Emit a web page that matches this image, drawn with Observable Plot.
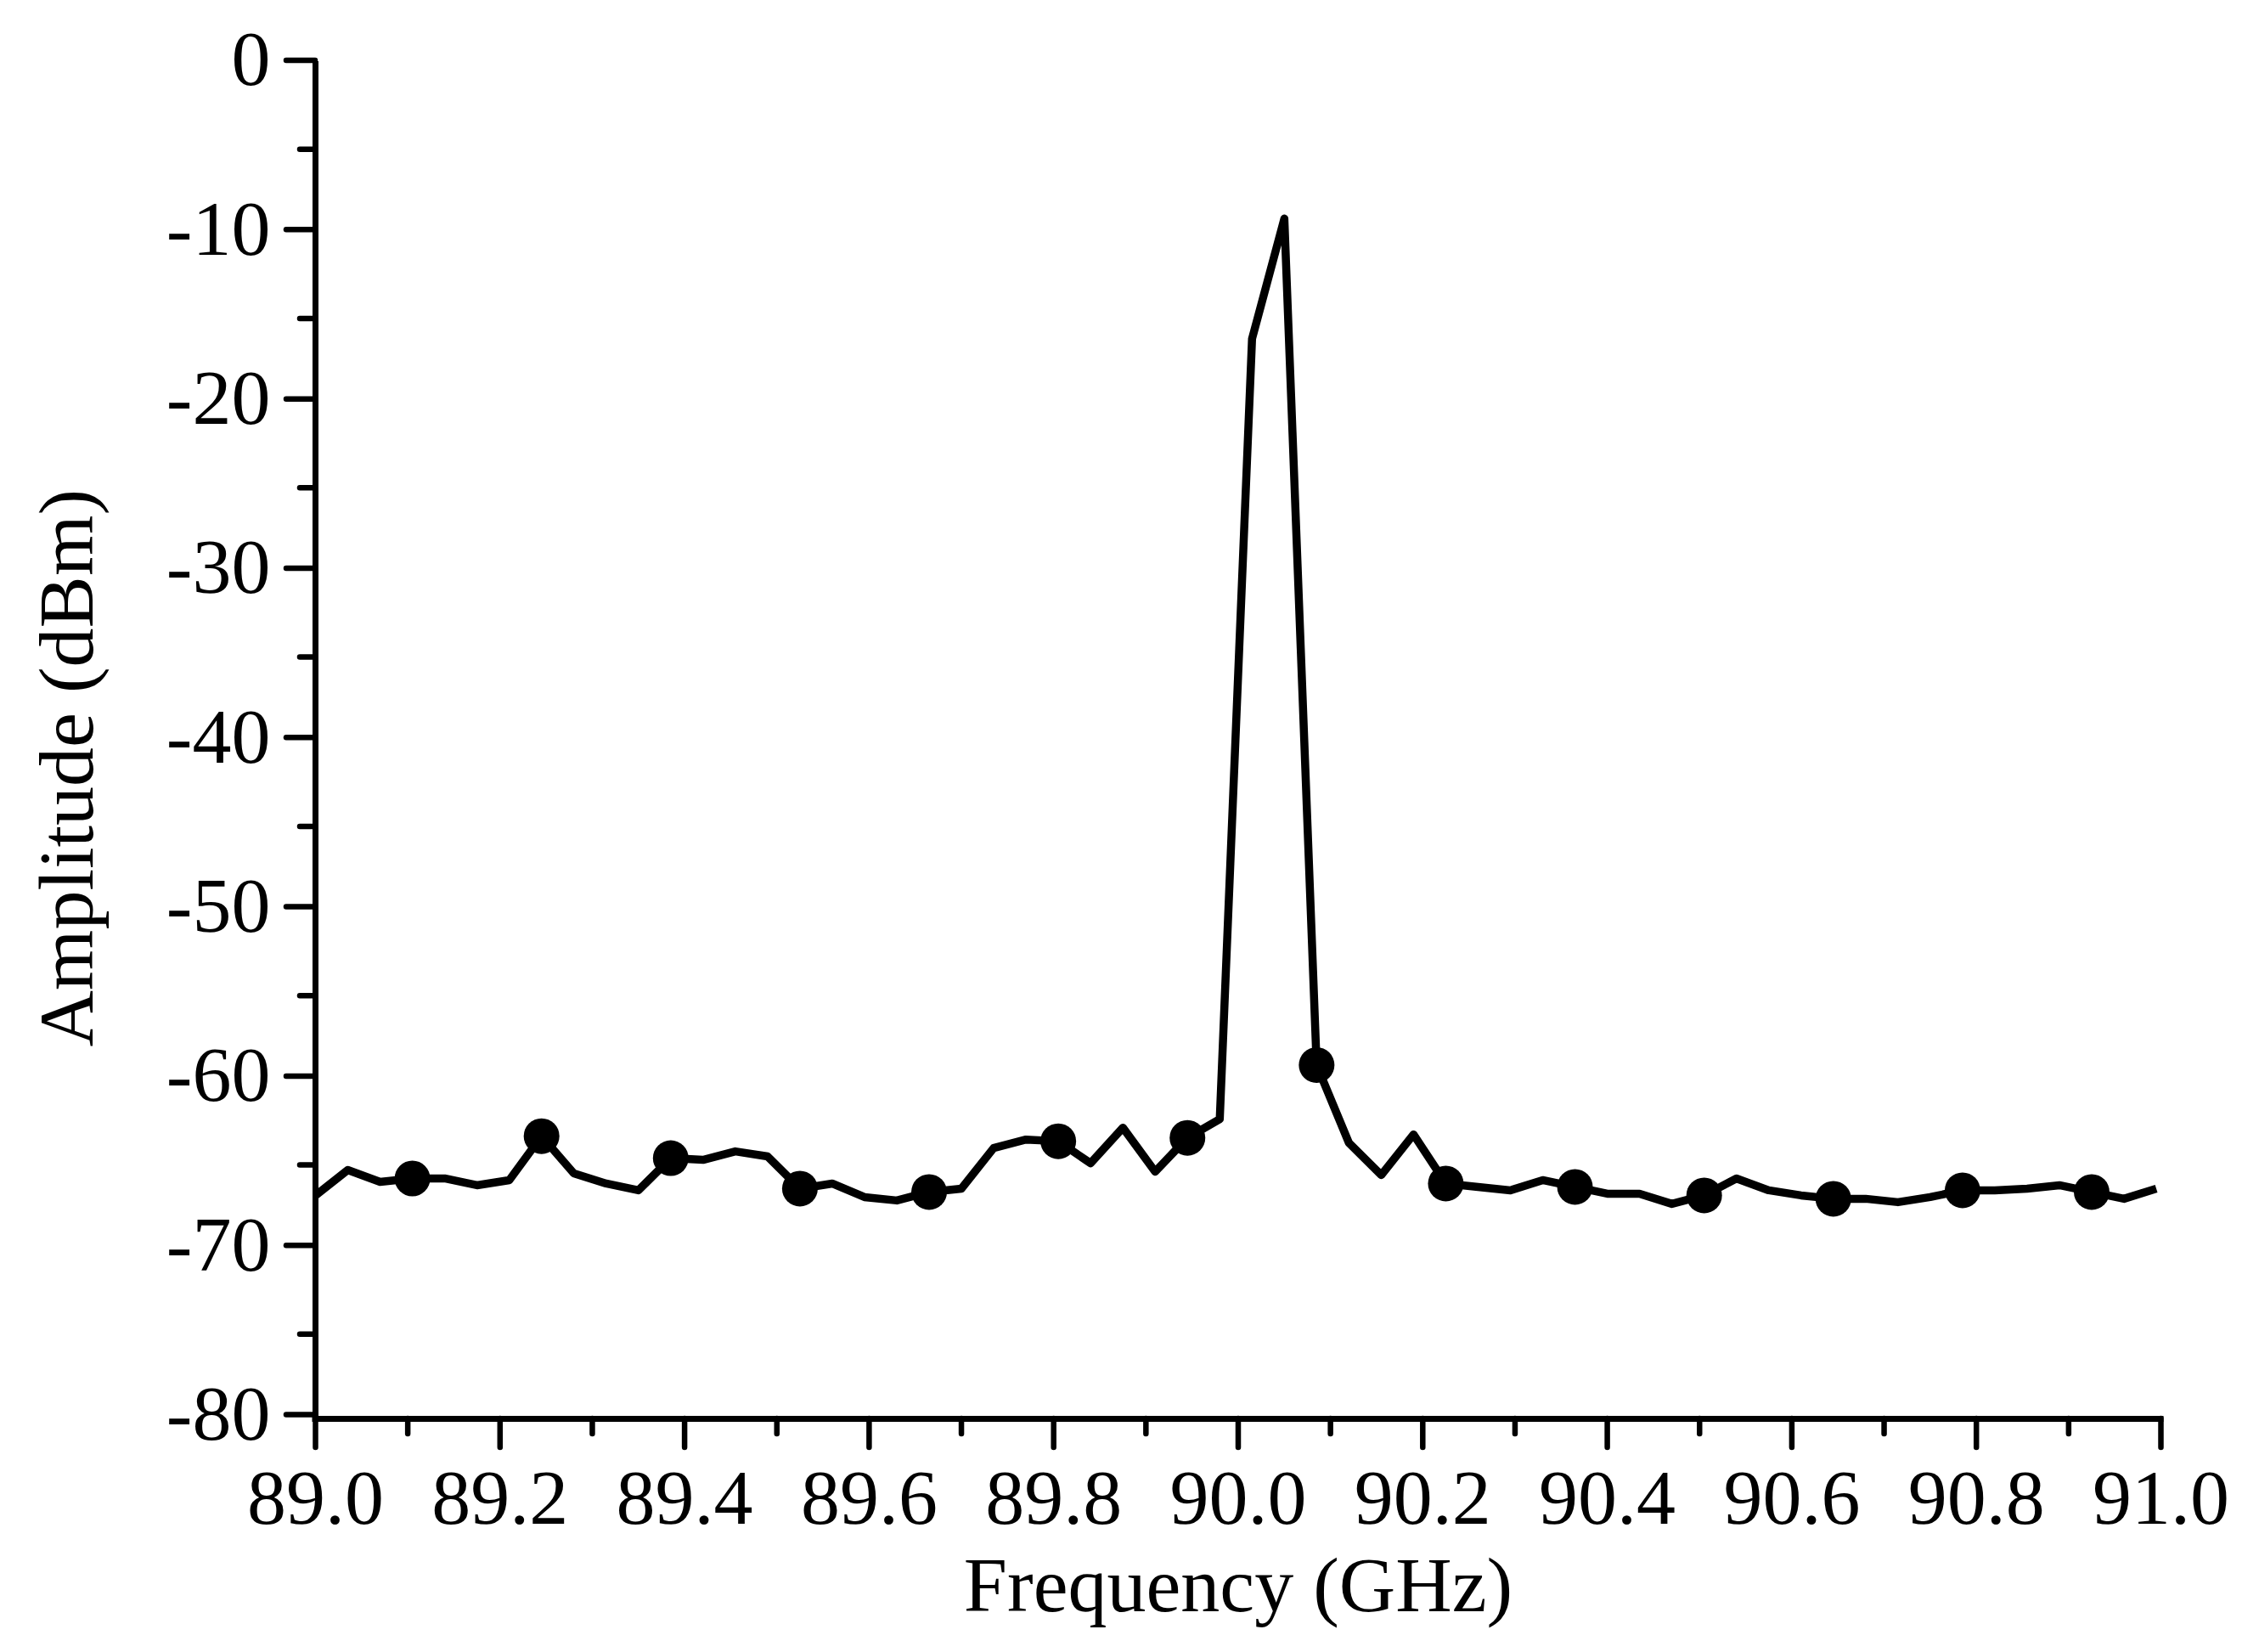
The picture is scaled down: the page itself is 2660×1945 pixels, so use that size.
<!DOCTYPE html>
<html>
<head>
<meta charset="utf-8">
<script src="https://cdn.jsdelivr.net/npm/d3@7"></script>
<script src="https://cdn.jsdelivr.net/npm/@observablehq/plot@0.6"></script>
<style>
  html, body { margin: 0; padding: 0; background: #fff; }
  #chart svg { display: block; }
</style>
</head>
<body>
<div id="chart"></div>
<script>
// Frequency samples (GHz)
const freq = [
  89.000, 89.035, 89.070, 89.105, 89.140, 89.175, 89.210, 89.245, 89.280, 89.315,
  89.350, 89.385, 89.420, 89.455, 89.490, 89.525, 89.560, 89.595, 89.630, 89.665,
  89.700, 89.735, 89.770, 89.805, 89.840, 89.875, 89.910, 89.945, 89.980, 90.015,
  90.050, 90.085, 90.120, 90.155, 90.190, 90.225, 90.260, 90.295, 90.330, 90.365,
  90.400, 90.435, 90.470, 90.505, 90.540, 90.575, 90.610, 90.645, 90.680, 90.715,
  90.750, 90.785, 90.820, 90.855, 90.890, 90.925, 90.960, 90.995
];
// Amplitude (dBm)
const amp = [
  -66.8, -65.3, -66.0, -65.8, -65.8, -66.2, -65.9, -63.3, -65.5, -66.1,
  -66.5, -64.6, -64.7, -64.2, -64.5, -66.4, -66.1, -66.9, -67.1, -66.6,
  -66.4, -64.0, -63.5, -63.6, -64.9, -62.8, -65.4, -63.4, -62.3, -16.2,
  -9.1, -59.1, -63.7, -65.6, -63.2, -66.1, -66.3, -66.5, -65.9, -66.3,
  -66.7, -66.7, -67.3, -66.8, -65.8, -66.5, -66.8, -67.0, -67.0, -67.2,
  -66.9, -66.5, -66.5, -66.4, -66.2, -66.6, -67.0, -66.4
];
// Marker symbols (filled circles)
const markerFreq = [89.105, 89.245, 89.385, 89.525, 89.665, 89.805, 89.945,
                    90.085, 90.225, 90.365, 90.505, 90.645, 90.785, 90.925];
const markerAmp  = [-65.8, -63.3, -64.6, -66.4, -66.6, -63.6, -63.4,
                    -59.1, -66.1, -66.3, -66.8, -67.0, -66.5, -66.6];

// Ticks
const xMajorTicks = [89.0, 89.2, 89.4, 89.6, 89.8, 90.0, 90.2, 90.4, 90.6, 90.8, 91.0];
const xMinorTicks = [89.1, 89.3, 89.5, 89.7, 89.9, 90.1, 90.3, 90.5, 90.7, 90.9];
const yMajorTicks = [0, -10, -20, -30, -40, -50, -60, -70, -80];
const yMinorTicks = [-5, -15, -25, -35, -45, -55, -65, -75];

const xTitle = "Frequency (GHz)";
const yTitle = "Amplitude (dBm)";

const lineData = freq.map((f, i) => ({f, a: amp[i]}));
const markerData = markerFreq.map((f, i) => ({f, a: markerAmp[i]}));

const FONT = 92;
const tickW = 6.5;

const chart = Plot.plot({
  width: 2660,
  height: 1945,
  marginLeft: 371,
  marginRight: 116,
  marginTop: 75.5,
  marginBottom: 275,
  style: {
    fontFamily: "'Liberation Serif', 'Times New Roman', serif",
    fontSize: FONT + "px",
    background: "#fff",
    color: "#000"
  },
  x: {domain: [89, 91], axis: null},
  y: {domain: [-80, 0], axis: null},
  marks: [
    Plot.axisX(xMajorTicks, {
      tickSize: 34, tickPadding: 24, strokeWidth: tickW, strokeLinecap: "round",
      tickFormat: d => d.toFixed(1), fontSize: FONT, label: null
    }),
    Plot.axisX(xMinorTicks, {
      tickSize: 18, strokeWidth: tickW, strokeLinecap: "round", text: null, label: null
    }),
    Plot.axisY(yMajorTicks, {
      tickSize: 34, tickPadding: 19, strokeWidth: tickW, strokeLinecap: "round",
      tickFormat: d => String(d), fontSize: FONT, dy: -5, label: null
    }),
    Plot.axisY(yMinorTicks, {
      tickSize: 18, strokeWidth: tickW, strokeLinecap: "round", text: null, label: null
    }),
    Plot.ruleY([-80], {stroke: "#000", strokeWidth: 7, strokeLinecap: "square"}),
    Plot.ruleX([89], {stroke: "#000", strokeWidth: 7, strokeLinecap: "square"}),
    Plot.line(lineData, {
      x: "f", y: "a", stroke: "#000", strokeWidth: 9.5,
      strokeLinejoin: "round", strokeLinecap: "butt"
    }),
    Plot.dot(markerData, {x: "f", y: "a", r: 21, fill: "#000", stroke: null}),
    Plot.text([xTitle], {
      frameAnchor: "bottom", dy: 226, lineAnchor: "bottom",
      textAnchor: "middle", fontSize: FONT, fill: "#000"
    }),
    Plot.text([yTitle], {
      frameAnchor: "left", dx: -263, dy: 31, rotate: -90, lineAnchor: "bottom",
      textAnchor: "middle", fontSize: FONT, fill: "#000"
    })
  ]
});

document.getElementById("chart").appendChild(chart);
</script>
</body>
</html>
